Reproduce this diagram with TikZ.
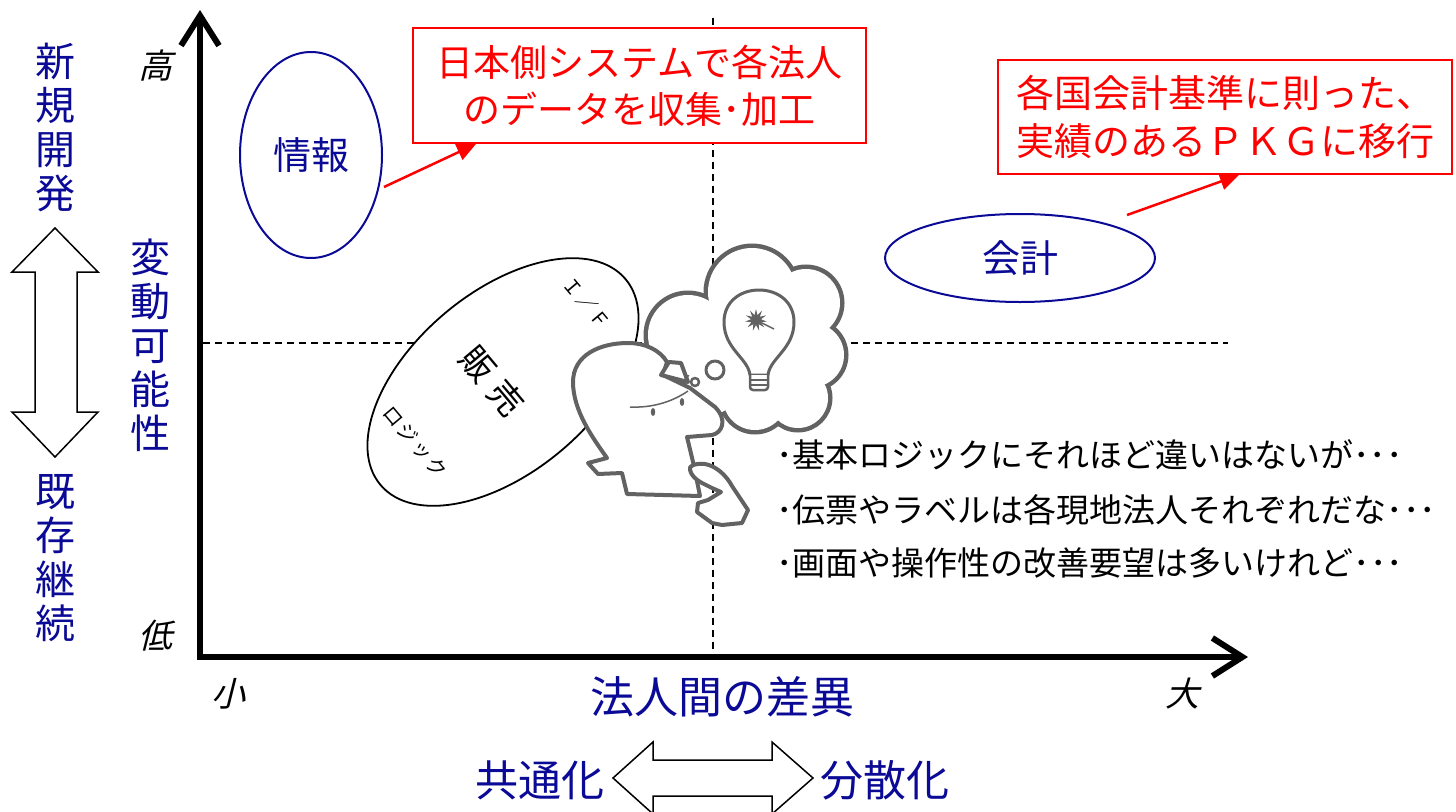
\documentclass[tikz,border=0pt]{standalone}
\usepackage{fontspec}
\usetikzlibrary{shapes.geometric, arrows.meta, calc}
\newfontfamily\jpfont{Noto Sans CJK JP}
\newfontfamily\jpslant{Noto Sans CJK JP}[FakeSlant=0.25]
\definecolor{axisBlue}{RGB}{10,10,150}
\definecolor{noteRed}{RGB}{255,0,0}
\definecolor{figGray}{RGB}{98,98,98}
\tikzstyle{bluelabel} = [text=axisBlue, align=center, inner sep=0, font=\jpfont\fontsize{40}{44}\selectfont]
\tikzstyle{scalelabel} = [inner sep=0, font=\jpslant\fontsize{34}{40}\selectfont]
\tikzstyle{note} = [rectangle, draw=noteRed, line width=2pt, fill=white, text=noteRed, align=center, font=\jpfont\fontsize{37}{47}\selectfont]
\tikzstyle{bubble} = [ellipse, draw=axisBlue, line width=2pt, fill=white, text=axisBlue, inner sep=0, font=\jpfont\fontsize{38}{44}\selectfont]
\tikzstyle{pointer} = [draw=noteRed, line width=2.5pt, -{Triangle[length=19pt,width=17pt]}]
\tikzstyle{axis} = [line width=6pt, -{Straight Barb[length=30pt,width=38pt]}]
\tikzstyle{guide} = [dash pattern=on 7pt off 5pt, line width=1.3pt]
\tikzstyle{blockarrow} = [draw=black, fill=white, line width=1.5pt, line join=miter]
\tikzstyle{figure} = [draw=figGray, fill=white, line width=4pt, line join=round]
\tikzstyle{remark} = [anchor=west, inner sep=0, font=\jpfont\fontsize{33}{36}\selectfont]
\tikzstyle{tilted} = [inner sep=0, rotate=-50]

\begin{document}
\begin{tikzpicture}[x=1pt, y=-1pt]
\useasboundingbox (0,0) rectangle (1456,811);

% quadrant guides
\coordinate (midtop) at (713,18);
\coordinate (midbot) at (713,650);
\coordinate (midleft) at (203,343);
\coordinate (midright) at (1228,343);
\draw[guide] (midtop) -- (midbot);
\draw[guide] (midleft) -- (midright);

% axes
\coordinate (origin) at (200,657);
\coordinate (ytip) at (200,10);
\coordinate (xtip) at (1248,657);
\draw[axis] (origin) -- (ytip);
\draw[axis] ($(origin)+(-3,0)$) -- (xtip);

\node[scalelabel] (high) at (155,66) {高};
\node[scalelabel] (low) at (155,636) {低};
\node[scalelabel] (small) at (228,694) {小};
\node[scalelabel] (large) at (1182,694) {大};

\node[bluelabel] (change) at (150,345) {変\\動\\可\\能\\性};
\node[bluelabel] (newdev) at (55,127) {新\\規\\開\\発};
\node[bluelabel] (keep) at (55,558) {既\\存\\継\\続};
\node[bluelabel, font=\jpfont\fontsize{44}{44}\selectfont] (gap) at (722,697) {法人間の差異};
\node[bluelabel, font=\jpfont\fontsize{43}{44}\selectfont] (common) at (540,780) {共通化};
\node[bluelabel, font=\jpfont\fontsize{43}{44}\selectfont] (spread) at (885,780) {分散化};

% double arrows
\draw[blockarrow] (55,228) -- (98,272) -- (77,272) -- (77,412) -- (98,412) -- (55,457)
  -- (12,412) -- (35,412) -- (35,272) -- (12,272) -- cycle;
\draw[blockarrow] (613,778) -- (653,742) -- (653,760) -- (772,760) -- (772,742) -- (813,778)
  -- (772,814) -- (772,796) -- (653,796) -- (653,814) -- cycle;

% systems
\node[bubble, minimum width=142pt, minimum height=206pt] (info) at (311,155) {情報};
\node[bubble, minimum width=270pt, minimum height=88pt] (acct) at (1020,258) {会計};
\node[ellipse, draw, line width=1.8pt, fill=white, minimum width=320pt, minimum height=180pt, rotate=40] (sales) at (503,382) {};
\node[tilted, font=\jpfont\fontsize{34}{36}\selectfont] (salestxt) at (492,381) {販\kern10pt売};
\node[tilted, font=\jpfont\fontsize{19}{22}\selectfont] (iftxt) at (587,303) {Ｉ\kern2pt／\kern2ptＦ};
\node[tilted, font=\jpfont\fontsize{20}{24}\selectfont] (logictxt) at (415,442) {ロ\kern2ptジ\kern2ptッ\kern2ptク};

% notes
\node[note, minimum width=453pt, minimum height=115pt] (note1) at (639.5,85.5) {日本側システムで各法人\\のデータを収集･加工};
\node[note, minimum width=454pt, minimum height=114pt, font=\jpfont\fontsize{38}{48}\selectfont] (note2) at (1225,117) {各国会計基準に則った、\\実績のあるＰＫＧに移行};
\draw[pointer] ($(info.center)+(73,32)$) -- ($(note1.south west)+(64,0)$);
\draw[pointer] ($(acct.center)+(107,-43)$) -- ($(note2.south west)+(242,0)$);

% thought cloud
\foreach \cx/\cy/\r in {688/335/40, 752/292/44, 806/303/34, 812/355/32, 798/398/30, 755/398/32, 712/388/26, 755/345/55}
  \draw[figGray, line width=9pt] (\cx,\cy) circle (\r pt);
\foreach \cx/\cy/\r in {688/335/40, 752/292/44, 806/303/34, 812/355/32, 798/398/30, 755/398/32, 712/388/26, 755/345/55}
  \fill[white] (\cx,\cy) circle (\r pt);

% bulb
\draw[figure, line width=3pt] (750,375) .. controls (748,358) and (724,349) .. (724,322)
  .. controls (724,302) and (740,290) .. (759,290) .. controls (778,290) and (794,302) .. (794,322)
  .. controls (794,349) and (770,358) .. (768,375) -- cycle;
\draw[figure, line width=2.5pt, rounded corners=3pt] (750,375) -- (750,390) -- (768,390) -- (768,375);
\draw[figGray, line width=1.5pt] (751,380) -- (767,380) (751,385) -- (767,385);
\node[star, star points=11, star point ratio=2.2, fill=figGray, minimum size=22pt, inner sep=0] (spark) at (756,320) {};
\draw[figGray, line width=1.5pt] (spark) -- (774,329);

% thinking figure
\draw[figure, line width=3pt] (715,370) circle (9pt);
\draw[figure] (607,458) .. controls (592,437) and (573,410) .. (573,382)
  .. controls (573,355) and (600,343) .. (628,343) .. controls (645,343) and (660,350) .. (667,362)
  -- (663,375) -- (690,388) -- (715,407) .. controls (728,420) and (722,433) .. (712,435)
  -- (687,437) -- (694,466) -- (700,496) -- (627,494) -- (622,473) -- (598,474) -- (588,463) -- cycle;
\draw[figure] (661,375) -- (669,362) -- (681,363) -- (688,382) -- cycle;
\draw[figure, line width=2.5pt] (695,382) circle (4pt);
\draw[figGray, line width=1.5pt] (630,407) .. controls (652,408) and (672,402) .. (688,391);
\fill[figGray] (653,412) ellipse (2.2pt and 4pt);
\fill[figGray] (682,402) ellipse (2.2pt and 4pt);
\draw[figure] (690,470) .. controls (688,466) and (695,463) .. (705,464)
  .. controls (716,466) and (726,475) .. (732,486) -- (748,510) -- (742,523) -- (722,525)
  -- (712,523) -- (697,512) -- (698,503) -- (708,500) -- (721,492) -- (712,488)
  -- (702,483) .. controls (696,480) and (691,475) .. cycle;

% remarks
\node[remark] (rem1) at (776,455) {･基本ロジックにそれほど違いはないが･･･};
\node[remark] (rem2) at (776,510) {･伝票やラベルは各現地法人それぞれだな･･･};
\node[remark] (rem3) at (776,563) {･画面や操作性の改善要望は多いけれど･･･};
\end{tikzpicture}
\end{document}
